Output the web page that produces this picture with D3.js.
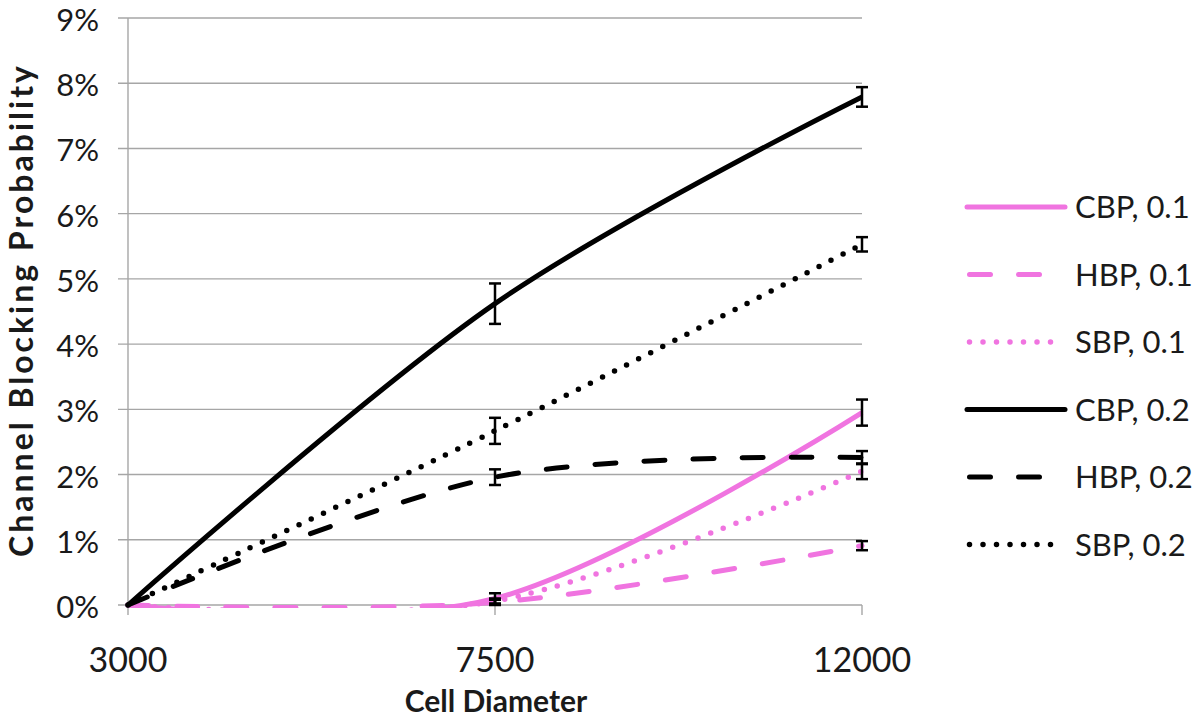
<!DOCTYPE html>
<html lang="en">
<head>
  <meta charset="UTF-8">
  <title>Channel Blocking Probability</title>
  <style>
    body { margin: 0; background: #fff; }
    svg text { font-family: Lato, "Open Sans", sans-serif; fill: #1a1a1a; }
  </style>
</head>
<body>
  <svg id="chart"></svg>
  <script src="https://cdn.jsdelivr.net/npm/d3@7"></script>
  <script>
    var w = 1200, h = 721;

    var diameters = ["3000", "7500", "12000"];
    var yTicks = [0, 0.01, 0.02, 0.03, 0.04, 0.05, 0.06, 0.07, 0.08, 0.09];

    // values (fraction) and error half-widths for each series
    var cbp01 = [0, 0.0010, 0.0295], cbp01Err = [0, 0.0008, 0.0020];
    var hbp01 = [0, 0.0004, 0.0091], hbp01Err = [0, 0.0004, 0.0007];
    var sbp01 = [0, 0.0006, 0.0205], sbp01Err = [0, 0.0004, 0.0012];
    var cbp02 = [0, 0.0462, 0.0779], cbp02Err = [0, 0.0031, 0.0015];
    var hbp02 = [0, 0.0196, 0.0226], hbp02Err = [0, 0.0012, 0.0010];
    var sbp02 = [0, 0.0267, 0.0553], sbp02Err = [0, 0.0020, 0.0011];

    var pink = "#f074e0", black = "#000";
    var series = [
      { name: "CBP, 0.1", values: cbp01, err: cbp01Err, color: pink, dash: null },
      { name: "HBP, 0.1", values: hbp01, err: hbp01Err, color: pink, dash: "21,28" },
      { name: "SBP, 0.1", values: sbp01, err: sbp01Err, color: pink, dash: "0,13.5" },
      { name: "CBP, 0.2", values: cbp02, err: cbp02Err, color: black, dash: null },
      { name: "HBP, 0.2", values: hbp02, err: hbp02Err, color: black, dash: "21,28" },
      { name: "SBP, 0.2", values: sbp02, err: sbp02Err, color: black, dash: "0,13.5" }
    ];

    var svg = d3.select("#chart").attr("width", w).attr("height", h);

    var x = d3.scalePoint().domain(diameters).range([128, 862]);
    var y = d3.scaleLinear().domain([0, 0.09]).range([605, 18]);

    // gridlines
    svg.append("g").selectAll("line")
      .data(yTicks)
      .enter().append("line")
        .attr("x1", 118).attr("x2", 862)
        .attr("y1", d => y(d)).attr("y2", d => y(d))
        .attr("stroke", "#a6a6a6").attr("stroke-width", 1.4);

    // y axis line
    svg.append("line")
      .attr("x1", 128).attr("x2", 128).attr("y1", y(0.09)).attr("y2", y(0))
      .attr("stroke", "#a6a6a6").attr("stroke-width", 1.4);

    // x ticks
    svg.append("g").selectAll("line")
      .data(diameters)
      .enter().append("line")
        .attr("x1", d => x(d)).attr("x2", d => x(d))
        .attr("y1", y(0)).attr("y2", y(0) + 10)
        .attr("stroke", "#a6a6a6").attr("stroke-width", 1.4);

    // y tick labels
    svg.append("g").selectAll("text")
      .data(yTicks)
      .enter().append("text")
        .attr("x", 99).attr("y", d => y(d))
        .attr("dy", "0.42em")
        .attr("text-anchor", "end")
        .attr("font-size", 31)
        .text(d3.format(".0%"));

    // x tick labels
    svg.append("g").selectAll("text")
      .data(diameters)
      .enter().append("text")
        .attr("x", d => x(d)).attr("y", 672)
        .attr("text-anchor", "middle")
        .attr("font-size", 34)
        .text(d => d);

    svg.append("text")
      .attr("x", 496).attr("y", 712)
      .attr("text-anchor", "middle")
      .attr("font-size", 30).attr("font-weight", "bold")
      .text("Cell Diameter");

    svg.append("text")
      .attr("transform", "translate(33,310) rotate(-90)")
      .attr("text-anchor", "middle")
      .attr("font-size", 32).attr("font-weight", "bold")
      .attr("letter-spacing", 3)
      .text("Channel Blocking Probability");

    // clip so the smoothed curves do not dip below 0%
    svg.append("clipPath").attr("id", "plot-clip")
      .append("rect")
        .attr("x", 120).attr("y", 0)
        .attr("width", 760).attr("height", y(0) + 3);

    var line = d3.line()
      .x((d, i) => x(diameters[i]))
      .y(d => y(d))
      .curve(d3.curveCatmullRom.alpha(0));

    var plot = svg.append("g").attr("clip-path", "url(#plot-clip)");
    plot.selectAll("path")
      .data(series)
      .enter().append("path")
        .attr("d", d => line(d.values))
        .attr("fill", "none")
        .attr("stroke", d => d.color)
        .attr("stroke-width", d => d.dash === "0,13.5" ? 5.5 : 5)
        .attr("stroke-linecap", d => d.dash ? "round" : "butt")
        .attr("stroke-dasharray", d => d.dash);

    // error bars (black)
    var bars = [];
    series.forEach(s => {
      s.values.forEach((v, i) => {
        if (s.err[i] > 0) bars.push({ cat: diameters[i], v: v, e: s.err[i] });
      });
    });
    var eb = svg.append("g").attr("stroke", "#000").attr("stroke-width", 2.5);
    eb.selectAll("line.v")
      .data(bars)
      .enter().append("line")
        .attr("x1", d => x(d.cat)).attr("x2", d => x(d.cat))
        .attr("y1", d => y(d.v + d.e)).attr("y2", d => y(Math.max(0, d.v - d.e)));
    eb.selectAll("line.t")
      .data(bars)
      .enter().append("line")
        .attr("x1", d => x(d.cat) - 6).attr("x2", d => x(d.cat) + 6)
        .attr("y1", d => y(d.v + d.e)).attr("y2", d => y(d.v + d.e));
    eb.selectAll("line.b")
      .data(bars)
      .enter().append("line")
        .attr("x1", d => x(d.cat) - 6).attr("x2", d => x(d.cat) + 6)
        .attr("y1", d => y(Math.max(0, d.v - d.e))).attr("y2", d => y(Math.max(0, d.v - d.e)));

    // legend
    var legend = svg.append("g").selectAll("g")
      .data(series)
      .enter().append("g")
        .attr("transform", (d, i) => "translate(0," + (207 + i * 67.5) + ")");
    legend.append("line")
      .attr("x1", d => d.dash ? 969.5 : 967)
      .attr("x2", d => d.dash ? 1062.5 : 1065)
      .attr("stroke", d => d.color)
      .attr("stroke-width", d => d.dash === "0,13.5" ? 5.5 : 5)
      .attr("stroke-linecap", "round")
      .attr("stroke-dasharray", d => d.dash);
    legend.append("text")
      .attr("x", 1075).attr("dy", "0.36em")
      .attr("font-size", 31)
      .text(d => d.name);
  </script>
</body>
</html>
